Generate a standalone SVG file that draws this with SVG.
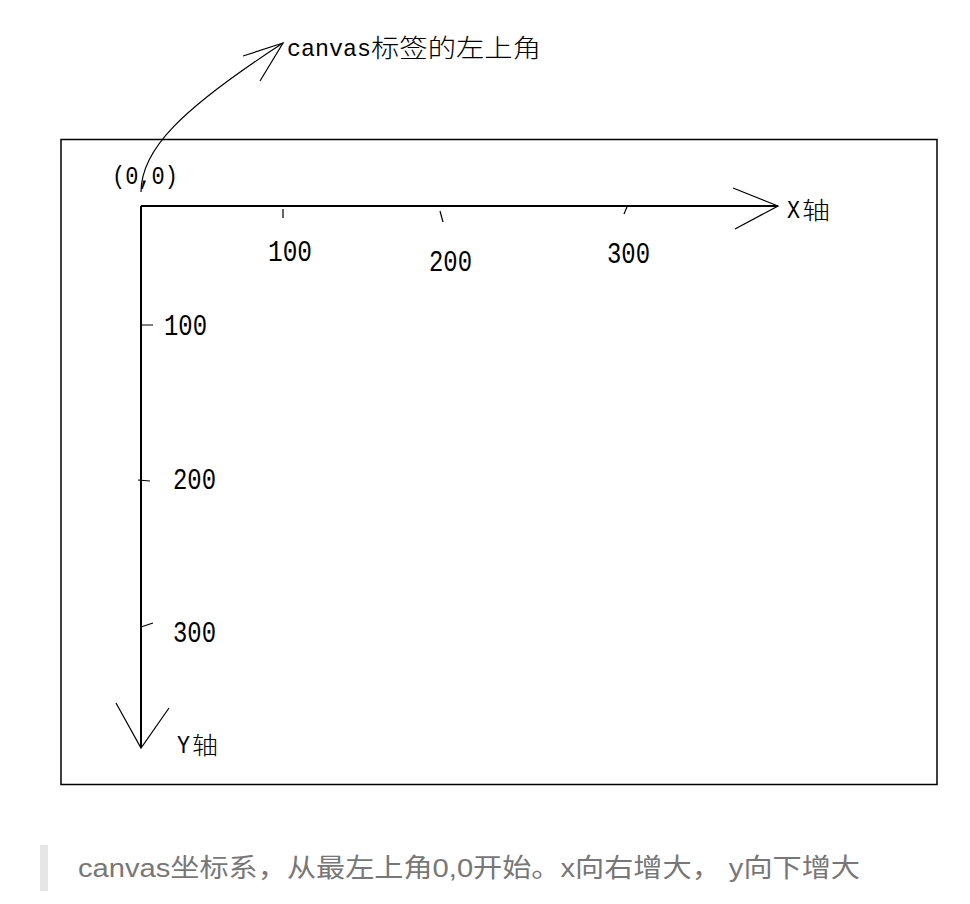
<svg xmlns="http://www.w3.org/2000/svg" width="970" height="904" viewBox="0 0 970 904">
<style>
.ln{fill:none;stroke:#000;stroke-width:1.2}
.ax{fill:none;stroke:#000;stroke-width:2}
.mono{font-family:"Liberation Mono",monospace;fill:#000}
.cjk{font-family:"Noto Sans CJK SC",sans-serif;fill:#000;font-weight:300}
</style>
<rect x="0" y="0" width="970" height="904" fill="#fff"/>
<g id="frame"><rect x="61" y="139.5" width="876" height="645" fill="none" stroke="#000" stroke-width="1.5"/></g>
<g id="connectors">
<path class="ln" d="M141,192 C141,150 180,110 283,43"/>
<path class="ln" d="M243,56 L283,43 L260,81"/>
<path class="ax" d="M141,206 L778,206"/>
<path class="ln" d="M733,188 L778,206 L735,229"/>
<path class="ax" d="M141,206 L141,747"/>
<path class="ln" d="M116,703 L141,748 L169,708"/>
<path class="ln" d="M283,209 L283,218 M440,211 L443,222 M627,207 L624,214"/>
<path class="ln" d="M141,325 L153,325 M138,480 L150,481 M141,627 L153,623"/>
</g>
<g id="label-corner">
<text class="mono" x="287" y="56" font-size="24" textLength="84" lengthAdjust="spacingAndGlyphs">canvas</text>
<text class="cjk" x="371" y="57" font-size="25" textLength="170" lengthAdjust="spacingAndGlyphs">标签的左上角</text>
</g>
<g id="origin"><text class="mono" x="112" y="184" font-size="26" textLength="66" lengthAdjust="spacingAndGlyphs">(0,0)</text></g>
<g id="x-axis-label">
<text class="mono" x="787" y="218" font-size="26" textLength="13" lengthAdjust="spacingAndGlyphs">X</text>
<text class="cjk" x="802" y="219" font-size="24" textLength="28" lengthAdjust="spacingAndGlyphs">轴</text>
</g>
<g id="y-axis-label">
<text class="mono" x="177" y="753" font-size="26" textLength="13" lengthAdjust="spacingAndGlyphs">Y</text>
<text class="cjk" x="192" y="754" font-size="24" textLength="26" lengthAdjust="spacingAndGlyphs">轴</text>
</g>
<g id="x-ticks">
<text class="mono" x="268" y="261" font-size="30" textLength="44" lengthAdjust="spacingAndGlyphs">100</text>
<text class="mono" x="429" y="271" font-size="30" textLength="43" lengthAdjust="spacingAndGlyphs">200</text>
<text class="mono" x="607" y="263" font-size="30" textLength="43" lengthAdjust="spacingAndGlyphs">300</text>
</g>
<g id="y-ticks">
<text class="mono" x="164" y="335" font-size="30" textLength="43" lengthAdjust="spacingAndGlyphs">100</text>
<text class="mono" x="173" y="489" font-size="30" textLength="43" lengthAdjust="spacingAndGlyphs">200</text>
<text class="mono" x="173" y="642" font-size="30" textLength="43" lengthAdjust="spacingAndGlyphs">300</text>
</g>
<g id="caption">
<rect x="40" y="845" width="8" height="46" fill="#e6e6e6"/>
<text x="78" y="877" font-family="Liberation Sans,Noto Sans CJK SC,sans-serif" font-size="26" fill="#777" textLength="782" lengthAdjust="spacingAndGlyphs">canvas坐标系，从最左上角0,0开始。x向右增大， y向下增大</text>
</g>
</svg>
